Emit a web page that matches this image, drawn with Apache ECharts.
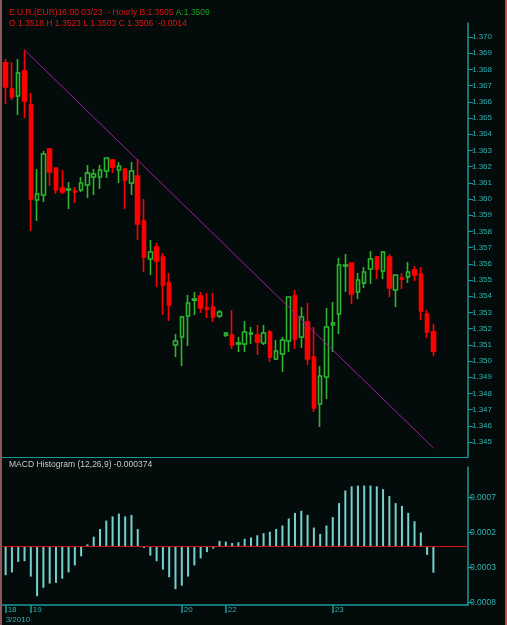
<!DOCTYPE html>
<html>
<head>
<meta charset="utf-8">
<script src="https://cdn.jsdelivr.net/npm/echarts@6/dist/echarts.min.js"></script>
<style>
  html, body { margin: 0; padding: 0; background: #030c0a; }
  #chart { width: 507px; height: 625px; }
</style>
</head>
<body>
<div id="chart"></div>
<script>
// hourly EUR candles, one entry per bar
var opens = [1.36840,1.36679,1.36636,1.36790,1.36580,1.35994,1.36025,1.36309,1.36191,1.36068,
  1.36056,1.36049,1.36056,1.36086,1.36136,1.36136,1.36173,1.36241,1.36179,1.36185,
  1.36099,1.36142,1.35864,1.35630,1.35704,1.35642,1.35481,1.35099,1.35148,1.35278,
  1.35376,1.35401,1.35327,1.35333,1.35278,1.35160,1.35160,1.35105,1.35105,1.35167,
  1.35160,1.35111,1.35179,1.35012,1.35043,1.35123,1.35401,1.35148,1.35241,1.35025,
  1.34735,1.34901,1.35222,1.35290,1.35586,1.35605,1.35426,1.35481,1.35568,1.35642,
  1.35556,1.35642,1.35438,1.35512,1.35519,1.35562,1.35537,1.35290,1.3518];
var closes = [1.36691,1.36630,1.36778,1.36605,1.36000,1.36031,1.36278,1.36167,1.36056,1.36043,
  1.36062,1.36043,1.36099,1.36160,1.36154,1.36179,1.36253,1.36198,1.36204,1.36117,
  1.36173,1.35846,1.35642,1.35673,1.35617,1.35469,1.35346,1.35123,1.35272,1.35358,
  1.35383,1.35327,1.35321,1.35272,1.35302,1.35173,1.35099,1.35111,1.35179,1.35173,
  1.35117,1.35173,1.35025,1.35062,1.35130,1.35395,1.35136,1.35272,1.35012,1.34710,
  1.34907,1.35210,1.35234,1.35593,1.35593,1.35414,1.35500,1.35549,1.35630,1.35568,
  1.35673,1.35451,1.35531,1.35506,1.35549,1.35531,1.35309,1.35179,1.3506];
var lows = [1.36586,1.36611,1.36519,1.36500,1.35802,1.35864,1.35981,1.36080,1.36031,1.36031,
  1.35938,1.35975,1.36043,1.36006,1.36025,1.36062,1.36130,1.36160,1.36099,1.35938,
  1.36025,1.35747,1.35549,1.35531,1.35457,1.35284,1.35247,1.35025,1.34969,1.35093,
  1.35284,1.35296,1.35265,1.35241,1.35265,1.35148,1.35074,1.35056,1.35056,1.35105,
  1.35037,1.35099,1.34994,1.35006,1.34932,1.35056,1.35074,1.35080,1.34975,1.34685,
  1.34593,1.34765,1.35056,1.35167,1.35426,1.35352,1.35383,1.35451,1.35475,1.35506,
  1.35506,1.35395,1.35333,1.35444,1.35481,1.35494,1.35253,1.35142,1.3503];
var highs = [1.36864,1.36846,1.36864,1.36920,1.36654,1.36185,1.36296,1.36315,1.36191,1.36179,
  1.36105,1.36074,1.36136,1.36210,1.36185,1.36210,1.36253,1.36247,1.36228,1.36185,
  1.36228,1.36247,1.36000,1.35747,1.35728,1.35667,1.35543,1.35167,1.35278,1.35407,
  1.35426,1.35426,1.35420,1.35420,1.35315,1.35179,1.35315,1.35148,1.35247,1.35210,
  1.35222,1.35222,1.35191,1.35130,1.35148,1.35395,1.35438,1.35333,1.35358,1.35210,
  1.34969,1.35327,1.35364,1.35636,1.35660,1.35605,1.35543,1.35580,1.35679,1.35648,
  1.35679,1.35660,1.35531,1.35543,1.35611,1.35586,1.35580,1.35315,1.3523];

// MACD histogram (12,26,9)
var macdHist = [-0.00041,-0.00037,-0.00022,-0.00021,-0.00043,-0.00071,-0.00059,-0.00053,-0.00052,-0.00046,
  -0.00037,-0.00027,-0.00014,0.00003,0.00014,0.00025,0.00037,0.00043,0.00047,0.00043,
  0.00045,0.00025,-0.00002,-0.00013,-0.00021,-0.00033,-0.00044,-0.00061,-0.00056,-0.00043,
  -0.00027,-0.00017,-0.00008,-0.00003,0.00008,0.00007,0.00005,0.00006,0.00011,0.00013,
  0.00016,0.00019,0.00021,0.00025,0.00030,0.00040,0.00048,0.00051,0.00045,0.00027,
  0.00018,0.00030,0.00042,0.00062,0.00080,0.00086,0.00087,0.00087,0.00087,0.00086,
  0.00082,0.00072,0.00062,0.00058,0.00048,0.00036,0.00020,-0.00012,-0.000374];

// trend line drawn on the chart: [bar index, price]
var trendLine = [[3, 1.36920], [68, 1.34463]];

// day labels at bar index, plus a few empty slots after the last bar
var dayLabels = { 0: '18', 4: '19', 28: '20', 35: '22', 52: '23' };
var monthLabel = '3/2010';
var emptySlots = 5;

var priceTicks = [1.345,1.346,1.347,1.348,1.349,1.350,1.351,1.352,1.353,1.354,1.355,1.356,1.357,
  1.358,1.359,1.360,1.361,1.362,1.363,1.364,1.365,1.366,1.367,1.368,1.369,1.370];
var macdTicks = [0.0007, 0.0002, -0.0003, -0.0008];

var axisColor = '#1a9a9a';
var labelColor = '#2fb0b0';
var font = 'Liberation Sans';

var categories = [];
for (var i = 0; i < opens.length + emptySlots; i++) {
  categories.push(String(i));
}
var candles = opens.map(function (o, i) {
  return [o, closes[i], lows[i], highs[i]];
});
function isDay(index) {
  return dayLabels[index] !== undefined;
}

var myChart = echarts.init(document.getElementById('chart'));
myChart.setOption({
  backgroundColor: '#030c0a',
  animation: false,
  title: [
    {
      left: 4,
      top: 2,
      text: '{r|E.U.R.(EUR)16:00 03/23  - Hourly B:1.3505 }{g|A:1.3509}\n{r|O 1.3518 H 1.3523 L 1.3503 C 1.3506  -0.0014}',
      textStyle: {
        fontFamily: font,
        fontSize: 8.5,
        fontWeight: 'normal',
        lineHeight: 11,
        rich: {
          r: { color: '#e01414', fontFamily: font, fontSize: 8.5, fontWeight: 'normal', lineHeight: 11 },
          g: { color: '#1fa01f', fontFamily: font, fontSize: 8.5, fontWeight: 'normal', lineHeight: 11 },
        },
      },
    },
    {
      left: 4,
      top: 455,
      text: 'MACD Histogram (12,26,9) -0.000374',
      textStyle: { color: '#c4cccc', fontFamily: font, fontSize: 8.5, fontWeight: 'normal' },
    },
  ],
  graphic: [
    { type: 'rect', shape: { x: 0, y: 0, width: 2, height: 625 }, style: { fill: '#8c5a5a' } },
    { type: 'rect', shape: { x: 505, y: 0, width: 2, height: 625 }, style: { fill: '#d04848' } },
  ],
  grid: [
    { left: 2.5, right: 39, top: 23, bottom: 168 },
    { left: 2.5, right: 39, top: 467, bottom: 20 },
  ],
  xAxis: [
    {
      type: 'category',
      gridIndex: 0,
      data: categories,
      boundaryGap: true,
      axisLine: { onZero: false, lineStyle: { color: axisColor } },
      axisTick: { show: false },
      axisLabel: { show: false },
      splitLine: { show: false },
    },
    {
      type: 'category',
      gridIndex: 1,
      data: categories,
      boundaryGap: true,
      axisLine: { onZero: false, lineStyle: { color: axisColor, width: 1.5 } },
      axisTick: {
        show: true,
        alignWithLabel: true,
        interval: function (index) { return isDay(index); },
        length: 8,
        lineStyle: { color: axisColor, width: 1.5 },
      },
      axisLabel: {
        interval: function (index) { return isDay(index); },
        formatter: function (value, index) {
          var s = '{d|' + (dayLabels[index] || '') + '}';
          if (index === 0) s += '\n{m|' + monthLabel + '}';
          return s;
        },
        color: labelColor,
        fontFamily: font,
        fontSize: 8,
        lineHeight: 10,
        align: 'left',
        margin: 0,
        rich: {
          d: { color: labelColor, fontFamily: font, fontSize: 8, lineHeight: 10, padding: [0, 0, 0, 2] },
          m: { color: labelColor, fontFamily: font, fontSize: 8, lineHeight: 10 },
        },
      },
    },
  ],
  yAxis: [
    {
      type: 'value',
      gridIndex: 0,
      position: 'right',
      min: 1.344074,
      max: 1.370864,
      axisLine: { show: true, lineStyle: { color: axisColor, width: 1.5 } },
      axisTick: { show: true, customValues: priceTicks, length: 5, lineStyle: { color: axisColor } },
      axisLabel: {
        customValues: priceTicks,
        formatter: function (v) { return v.toFixed(3); },
        color: labelColor,
        fontFamily: font,
        fontSize: 8,
        margin: 4,
      },
      splitLine: { show: false },
    },
    {
      type: 'value',
      gridIndex: 1,
      position: 'right',
      min: -0.000836,
      max: 0.001136,
      axisLine: { show: true, lineStyle: { color: axisColor, width: 1.5 } },
      axisTick: { show: true, customValues: macdTicks, length: 5, lineStyle: { color: axisColor } },
      axisLabel: {
        customValues: macdTicks,
        formatter: function (v) { return Math.abs(v).toFixed(4); },
        color: labelColor,
        fontFamily: font,
        fontSize: 8.5,
        margin: 2,
      },
      splitLine: { show: false },
    },
  ],
  series: [
    {
      name: 'EUR',
      type: 'candlestick',
      xAxisIndex: 0,
      yAxisIndex: 0,
      data: candles,
      barWidth: 4,
      itemStyle: {
        color: '#030c0a',
        color0: '#ff0000',
        borderColor: '#2fb52f',
        borderColor0: '#ff0000',
        borderWidth: 1.6,
      },
    },
    {
      name: 'trend',
      type: 'line',
      xAxisIndex: 0,
      yAxisIndex: 0,
      data: trendLine,
      symbol: 'none',
      lineStyle: { color: '#a01aa0', width: 1 },
      silent: true,
    },
    {
      name: 'MACD',
      type: 'bar',
      xAxisIndex: 1,
      yAxisIndex: 1,
      data: macdHist,
      barWidth: 2,
      itemStyle: { color: '#72d2d2' },
      markLine: {
        silent: true,
        symbol: 'none',
        label: { show: false },
        lineStyle: { color: '#d81010', width: 1, type: 'solid' },
        data: [{ yAxis: 0 }],
      },
    },
  ],
});
</script>
</body>
</html>
